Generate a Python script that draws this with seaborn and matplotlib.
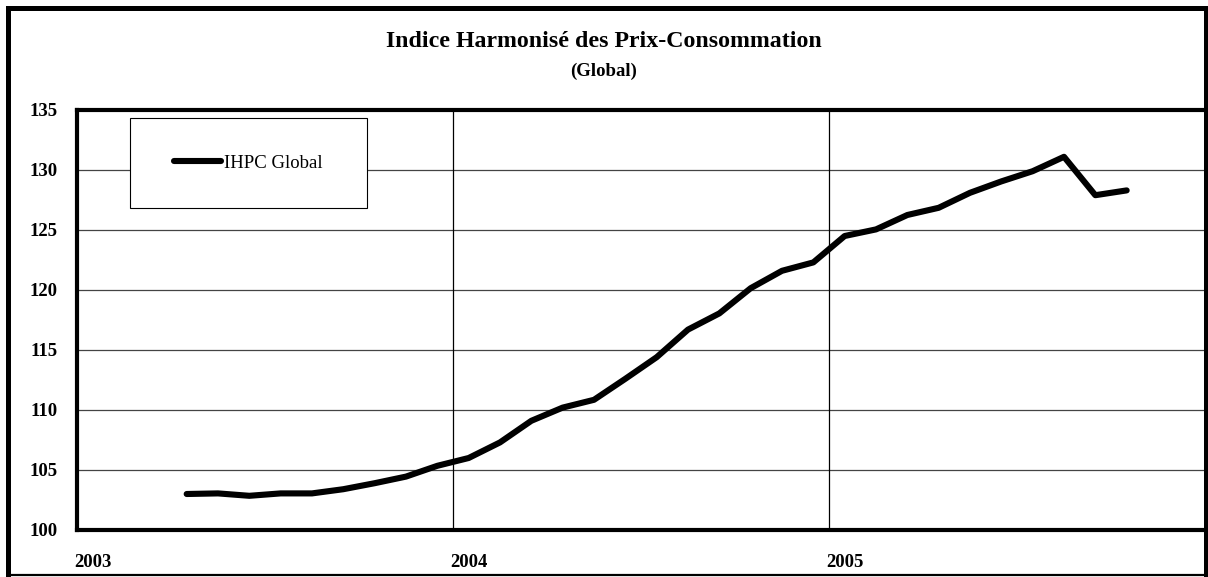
import matplotlib
matplotlib.use("Agg")
import matplotlib.pyplot as plt
from matplotlib.lines import Line2D
from matplotlib.patches import Rectangle
from matplotlib.ticker import FixedLocator
import seaborn as sns
import pandas as pd

# Monthly categories on the x axis (Jan 2003 - Dec 2005)
years = ["2003", "2004", "2005"]
month_categories = [f"{y}-{m:02d}" for y in years for m in range(1, 13)]

# Harmonised consumer price index, Apr 2003 - Oct 2005
series_months = [f"2003-{m:02d}" for m in range(4, 13)] + \
                [f"2004-{m:02d}" for m in range(1, 13)] + \
                [f"2005-{m:02d}" for m in range(1, 11)]
ihpc_values = [103.0, 103.05, 102.85, 103.05, 103.05, 103.4, 103.9, 104.45, 105.35,
               106.0, 107.3, 109.1, 110.2, 110.85, 112.6, 114.4, 116.7, 118.05, 120.15, 121.6, 122.3,
               124.5, 125.05, 126.25, 126.85, 128.1, 129.05, 129.9, 131.1, 127.9, 128.3]
y_ticks = [100, 105, 110, 115, 120, 125, 130, 135]
series_name = "IHPC Global"

df = pd.DataFrame({"mois": series_months, "indice": ihpc_values})
df["pos"] = df["mois"].map({c: i for i, c in enumerate(month_categories)})

sns.set_style("white")
plt.rcParams["font.family"] = ["Liberation Serif", "DejaVu Serif"]
plt.rcParams["text.color"] = "black"
plt.rcParams["xtick.color"] = "black"
plt.rcParams["ytick.color"] = "black"
plt.rcParams["axes.labelcolor"] = "black"

W, H = 1208, 577
fig = plt.figure(figsize=(W / 100, H / 100), dpi=100)
ax = fig.add_axes([77 / W, 1 - 530 / H, (1205 - 77) / W, (530 - 110) / H])

sns.lineplot(data=df, x="pos", y="indice", ax=ax, color="black", linewidth=4.4,
             label=series_name, solid_capstyle="round", solid_joinstyle="round", zorder=5)

ax.set_xlim(-0.5, len(month_categories) - 0.5)
ax.set_ylim(y_ticks[0], y_ticks[-1])

# Horizontal gridlines
ax.set_yticks(y_ticks)
ax.set_yticklabels([str(v) for v in y_ticks], fontsize=13.5, fontweight="bold")
for v in y_ticks[1:-1]:
    ax.axhline(v, color="#444444", linewidth=0.9, zorder=1)

# Year labels under the first month of each year; year boundaries as vertical gridlines
year_starts = [month_categories.index(f"{y}-01") for y in years]
ax.set_xticks(year_starts)
ax.set_xticklabels(years, fontsize=13.5, fontweight="bold")
boundaries = [s - 0.5 for s in year_starts[1:]]
ax.xaxis.set_minor_locator(FixedLocator(boundaries))
for b in boundaries:
    ax.axvline(b, color="black", linewidth=0.9, zorder=1)

ax.tick_params(axis="both", which="major", length=0, colors="black")
ax.tick_params(axis="y", pad=14)
ax.tick_params(axis="x", pad=17)
ax.tick_params(axis="x", which="minor", direction="in", length=6, width=2.5, color="black")
ax.set_xlabel("")
ax.set_ylabel("")

for side in ["left", "top", "bottom"]:
    ax.spines[side].set_visible(True)
    ax.spines[side].set_linewidth(3)
    ax.spines[side].set_color("black")
ax.spines["right"].set_visible(False)

# Legend: white box with the series entry centred inside
ax.add_patch(Rectangle((53 / 1128, 322 / 420), 237 / 1128, 90 / 420, transform=ax.transAxes,
                       facecolor="white", edgecolor="black", linewidth=0.8, zorder=9))
leg = ax.legend(loc="center", bbox_to_anchor=(171.5 / 1128, 367 / 420), frameon=False,
                prop={"size": 13.5}, handlelength=2.5, handletextpad=0.2, borderaxespad=0)
for h in leg.legend_handles:
    h.set_solid_capstyle("round")
leg.set_zorder(10)

# Titles
fig.text(0.5, 1 - 47 / H, "Indice Harmonisé des Prix-Consommation", ha="center", va="baseline",
         fontsize=17.2, fontweight="bold")
fig.text(0.5, 1 - 76 / H, "(Global)", ha="center", va="baseline", fontsize=13.5, fontweight="bold")

# Outer chart frame
def frame_line(x0, y0, x1, y1, lw):
    fig.add_artist(Line2D([x0 / W, x1 / W], [1 - y0 / H, 1 - y1 / H], color="black",
                          linewidth=lw, transform=fig.transFigure, solid_capstyle="projecting"))

frame_line(8, 8, 8, 575, 3.6)
frame_line(8, 8, 1205, 8, 3.6)
frame_line(1205.5, 8, 1205.5, 575, 3.6)
frame_line(8, 575, 1205, 575, 1.6)

fig.savefig("out.png", dpi=100)
